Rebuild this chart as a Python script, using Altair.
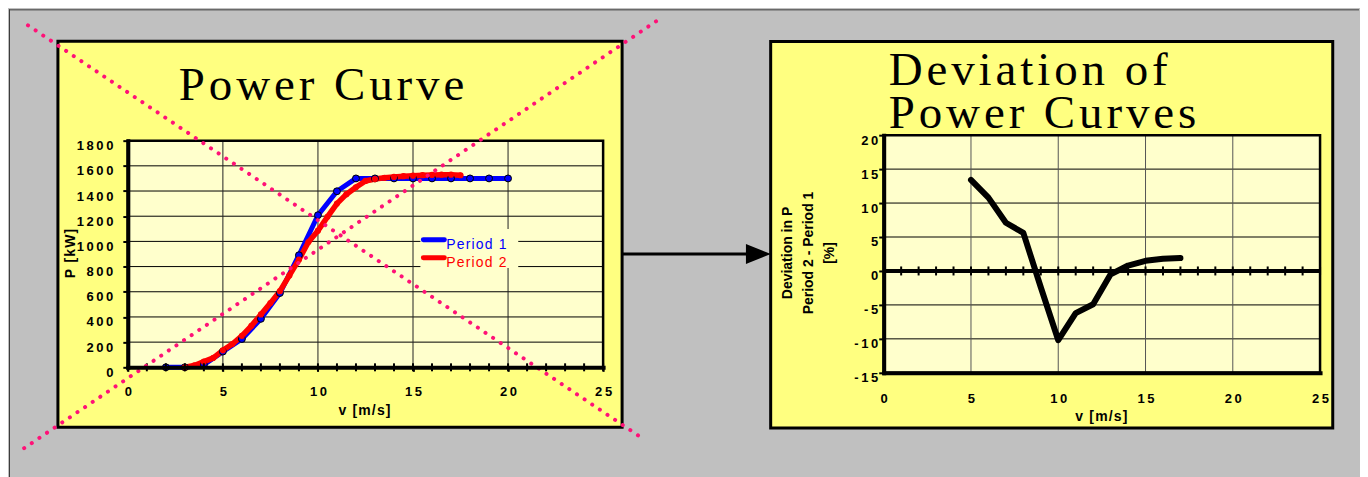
import altair as alt
import pandas as pd

# ---------------- data ----------------
P1_V = [2, 3, 4, 5, 6, 7, 8, 9, 10, 11, 12, 13, 14, 15, 16, 17, 18, 19, 20]
P1_P = [0, 0, 20, 125, 225, 385, 590, 890, 1208, 1398, 1500, 1500, 1500, 1500,
        1500, 1500, 1500, 1500, 1500]

P2_V = [3.0, 3.5, 4.0, 4.5, 5.0, 5.5, 6.0, 6.5, 7.0, 7.5, 8.0, 8.5, 9.0, 9.5,
        10.0, 10.5, 11.0, 11.5, 12.0, 12.5, 13.0, 13.5, 14.0, 14.5, 15.0, 15.5,
        16.0, 16.5, 17.0, 17.5]
P2_P = [0, 15, 45, 75, 135, 185, 250, 330, 420, 510, 605, 730, 855, 995,
        1085, 1195, 1300, 1375, 1430, 1480, 1495, 1505, 1512, 1518, 1522, 1526,
        1528, 1530, 1530, 1525]

DEV_V = [5, 6, 7, 8, 9, 10, 11, 12, 13, 14, 15, 16, 17]
DEV_P = [13.4, 10.8, 7.1, 5.6, -2.4, -10.2, -6.2, -4.9, -0.5, 0.8, 1.5, 1.8, 1.9]

SERIES = ["Period 1", "Period 2"]
V_TICKS = [0, 5, 10, 15, 20, 25]
V_MINOR = list(range(0, 26))
P_TICKS = [0, 200, 400, 600, 800, 1000, 1200, 1400, 1600, 1800]
DEV_TICKS = [-15, -10, -5, 0, 5, 10, 15, 20]
DEV_GRID = [-10, -5, 5, 10, 15]

TITLE_LEFT = "Power Curve"
TITLE_RIGHT = ["Deviation of", "Power Curves"]
XTITLE = "v [m/s]"
YTITLE_LEFT = "P [kW]"
YTITLE_RIGHT = ["Deviation in P", "Period 2 - Period 1", "[%]"]

# ---------------- styles ----------------
GRAY = "#C0C0C0"
PANEL = "#FFFF80"
PLOT = "#FFFFCC"
DOT = "#FF1177"
BLUE = "#0000FF"
RED = "#FF0000"
COLORS = [BLUE, RED]
SANS = "Liberation Sans"
SERIF = "Liberation Serif"
HAIR = "\u200a"
THIN = "\u2009"


def spaced(s, sep=HAIR):
    return sep.join(s)


W1, H1 = 476, 227
W2, H2 = 437, 238

one = pd.DataFrame({"k": [0]})


def deco():
    return alt.Chart(one)


LABEL_EXPR = "join(split(toString(datum.value), ''), '" + THIN + "')"


def axis_kw():
    return dict(labelFont=SANS, labelFontSize=13, labelFontWeight="bold",
                labelColor="black", labelFlush=False, labelOverlap=False,
                labelExpr=LABEL_EXPR, domainColor="black", domainWidth=4,
                domainCap="square", tickColor="black", tickWidth=2,
                grid=False, title=None, zindex=1)


AX1 = alt.Axis(values=V_TICKS, tickSize=4, labelPadding=14.5, **axis_kw())
AY1 = alt.Axis(values=P_TICKS, tickSize=5, labelPadding=10,
               labelBaseline="top", labelOffset=-1, **axis_kw())
AX2 = alt.Axis(values=V_TICKS, ticks=False, tickSize=0, labelPadding=19.5,
               **axis_kw())
AY2 = alt.Axis(values=DEV_TICKS, tickSize=5, labelPadding=1,
               labelBaseline="top", labelOffset=-1, **axis_kw())

xs1 = alt.Scale(domain=[0, 25], nice=False, zero=False)
ys1 = alt.Scale(domain=[0, 1800], nice=False, zero=False)
xs2 = alt.Scale(domain=[0, 25], nice=False, zero=False)
ys2 = alt.Scale(domain=[-15, 20], nice=False, zero=False)

X1 = lambda: alt.X("v:Q", scale=xs1, axis=AX1)
Y1 = lambda: alt.Y("p:Q", scale=ys1, axis=AY1)
X2 = lambda: alt.X("v:Q", scale=xs2, axis=AX2)
Y2 = lambda: alt.Y("d:Q", scale=ys2, axis=AY2)

df1 = pd.DataFrame({"v": P1_V, "p": P1_P})
df2 = pd.DataFrame({"v": P2_V, "p": P2_P})
dfd = pd.DataFrame({"v": DEV_V, "d": DEV_P})

# ---------------- left chart ----------------
bg = deco().mark_rect(fill=GRAY).encode(
    x=alt.value(-119), x2=alt.value(1233), y=alt.value(-131.5), y2=alt.value(337.5))
bg_top = deco().mark_rule(color="#3A3A3A", strokeWidth=1).encode(
    x=alt.value(-119), x2=alt.value(1233), y=alt.value(-131))
bg_left = deco().mark_rule(color="#3A3A3A", strokeWidth=1).encode(
    x=alt.value(-118.5), y=alt.value(-131.5), y2=alt.value(337.5))

arrow_line = deco().mark_rule(color="black", strokeWidth=3).encode(
    x=alt.value(495), x2=alt.value(622), y=alt.value(113.5))
arrow_head = deco().mark_point(shape="M-1,-0.8L1,0L-1,0.8Z", size=625, filled=True,
                               color="black", opacity=1).encode(
    x=alt.value(631.5), y=alt.value(113.5))

panel1 = deco().mark_rect(fill=PANEL, stroke="black", strokeWidth=3).encode(
    x=alt.value(-70), x2=alt.value(495), y=alt.value(-99.5), y2=alt.value(287))

title1 = deco().mark_text(text=spaced(TITLE_LEFT), font=SERIF, fontSize=47,
                          align="center", baseline="alphabetic", color="black").encode(
    x=alt.value(194), y=alt.value(-40.5))

plot1 = deco().mark_rect(fill=PLOT).encode(
    x=alt.value(0), x2=alt.value(W1), y=alt.value(0), y2=alt.value(H1))

hgrid1 = alt.Chart(pd.DataFrame({"p": P_TICKS[1:-1]})).mark_rule(
    color="black", strokeWidth=1).encode(y=Y1())
vgrid1 = alt.Chart(pd.DataFrame({"v": V_TICKS[1:-1]})).mark_rule(
    color="#222222", strokeWidth=1).encode(x=X1())

frame1 = deco().mark_rect(fillOpacity=0, stroke="black", strokeWidth=2.5).encode(
    x=alt.value(0), x2=alt.value(W1), y=alt.value(0), y2=alt.value(H1))

line1 = alt.Chart(df1).mark_line(color=BLUE, strokeWidth=5, strokeCap="round",
                                 strokeJoin="round").encode(x=X1(), y=Y1())
line2 = alt.Chart(df2).mark_line(color=RED, strokeWidth=5.5, strokeCap="round",
                                 strokeJoin="round").encode(x=X1(), y=Y1())
pts1 = alt.Chart(df1).mark_circle(fill=BLUE, stroke="black", strokeWidth=1, size=48,
                                  opacity=1).encode(x=X1(), y=Y1())
pts2 = alt.Chart(df2).mark_circle(color=RED, size=38, opacity=1).encode(x=X1(), y=Y1())

minor1 = alt.Chart(pd.DataFrame({"v": V_MINOR})).mark_tick(
    orient="vertical", size=8, thickness=2, color="black", opacity=1).encode(
    x=X1(), y=alt.value(H1))

color_scale = alt.Scale(domain=SERIES, range=COLORS)
leg_df = pd.DataFrame({"series": SERIES, "label": [spaced(s) for s in SERIES],
                       "i": list(range(len(SERIES)))})
leg_box = deco().mark_rect(fill=PLOT).encode(
    x=alt.value(293), x2=alt.value(391), y=alt.value(88.5), y2=alt.value(127.5))
leg_lines = alt.Chart(leg_df).transform_calculate(ly="99.2 + datum.i * 18").mark_rule(
    strokeWidth=5, strokeCap="round").encode(
    x=alt.value(296), x2=alt.value(317), y=alt.Y("ly:Q", scale=None),
    color=alt.Color("series:N", scale=color_scale, legend=None))
leg_text = alt.Chart(leg_df).transform_calculate(ty="108.8 + datum.i * 17.7").mark_text(
    align="left", baseline="alphabetic", font=SANS, fontSize=14).encode(
    x=alt.value(319), y=alt.Y("ty:Q", scale=None), text="label:N",
    color=alt.Color("series:N", scale=color_scale, legend=None))

ytitle1 = deco().mark_text(text=spaced(YTITLE_LEFT), font=SANS, fontSize=14,
                           fontWeight="bold", angle=270, align="center",
                           baseline="alphabetic", color="black").encode(
    x=alt.value(-53), y=alt.value(113))
xtitle1 = deco().mark_text(text=spaced(XTITLE), font=SANS, fontSize=14,
                           fontWeight="bold", align="center",
                           baseline="alphabetic", color="black").encode(
    x=alt.value(237), y=alt.value(274.5))

xa = deco().mark_rule(color=DOT, strokeWidth=4, strokeDash=[0.1, 9.1],
                      strokeCap="round").encode(
    x=alt.value(-100), y=alt.value(-115.5), x2=alt.value(516), y2=alt.value(298.5))
xb = deco().mark_rule(color=DOT, strokeWidth=4, strokeDash=[0.1, 9.1],
                      strokeCap="round").encode(
    x=alt.value(529), y=alt.value(-119.5), x2=alt.value(-109), y2=alt.value(311.5))

left = alt.layer(bg, bg_top, bg_left, arrow_line, arrow_head, panel1, title1, plot1,
                 hgrid1, vgrid1, frame1, line1, line2, pts1, pts2, minor1, leg_box,
                 leg_lines, leg_text, ytitle1, xtitle1, xa, xb).properties(
    width=W1, height=H1)

# ---------------- right chart ----------------
panel2 = deco().mark_rect(fill=PANEL, stroke="black", strokeWidth=3).encode(
    x=alt.value(-113.2), x2=alt.value(449.7), y=alt.value(-93.7), y2=alt.value(293.3))

title2 = deco().mark_text(text="\n".join(spaced(t) for t in TITLE_RIGHT), lineBreak="\n",
                          lineHeight=44, font=SERIF, fontSize=47, align="left",
                          baseline="alphabetic", color="black").encode(
    x=alt.value(5), y=alt.value(-50.7))

plot2 = deco().mark_rect(fill=PLOT).encode(
    x=alt.value(0), x2=alt.value(W2), y=alt.value(0), y2=alt.value(H2))

hgrid2 = alt.Chart(pd.DataFrame({"d": DEV_GRID})).mark_rule(
    color="black", strokeWidth=1).encode(y=Y2())
vgrid2 = alt.Chart(pd.DataFrame({"v": V_TICKS[1:-1]})).mark_rule(
    color="#555555", strokeWidth=1).encode(x=X2())

frame2 = deco().mark_rect(fillOpacity=0, stroke="black", strokeWidth=2.5).encode(
    x=alt.value(0), x2=alt.value(W2), y=alt.value(0), y2=alt.value(H2))

zero2 = alt.Chart(pd.DataFrame({"d": [0]})).mark_rule(color="black", strokeWidth=4).encode(
    y=Y2())
zticks2 = alt.Chart(pd.DataFrame({"v": V_MINOR[1:], "d": [0] * len(V_MINOR[1:])})).mark_tick(
    orient="vertical", size=9, thickness=2, color="black", opacity=1).encode(x=X2(), y=Y2())

dev_line = alt.Chart(dfd).mark_line(color="black", strokeWidth=6, strokeCap="round",
                                    strokeJoin="round").encode(x=X2(), y=Y2())

ytitle2 = deco().mark_text(text="\n".join(YTITLE_RIGHT), lineBreak="\n", lineHeight=21,
                           font=SANS, fontSize=14, fontWeight="bold", angle=270,
                           align="center", baseline="middle", color="black").encode(
    x=alt.value(-96), y=alt.value(118))
xtitle2 = deco().mark_text(text=spaced(XTITLE), font=SANS, fontSize=14,
                           fontWeight="bold", align="center",
                           baseline="alphabetic", color="black").encode(
    x=alt.value(218), y=alt.value(286))

right = alt.layer(panel2, title2, plot2, hgrid2, vgrid2, frame2, zero2, zticks2,
                  dev_line, ytitle2, xtitle2).properties(width=W2, height=H2)

chart = alt.hconcat(left, right, spacing=281, bounds="flush", center=True).properties(
    background=GRAY, padding=0).configure_view(strokeWidth=0)

chart.save("out.html", embed_options={"renderer": "svg", "actions": False})
